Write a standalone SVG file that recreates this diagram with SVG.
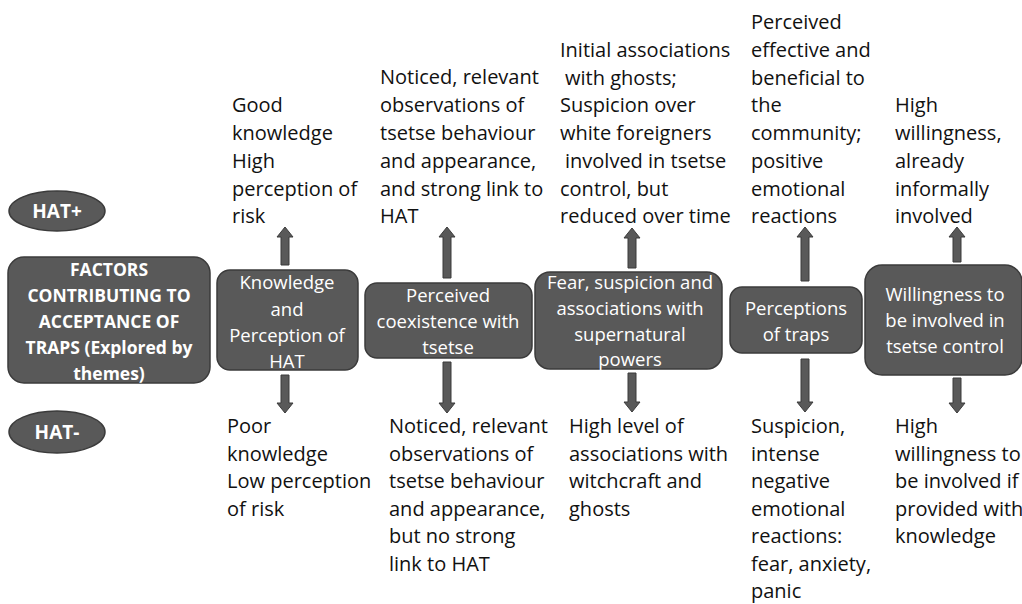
<svg xmlns="http://www.w3.org/2000/svg" width="1022" height="604" viewBox="0 0 1022 604">
<style>
.box{fill:#595959;stroke:#3b3b3b;stroke-width:1.5}
.arr{fill:#595959;stroke:#3b3b3b;stroke-width:1}
.bt{font-family:"Open Sans","Liberation Sans",sans-serif;font-size:18.5px;fill:#ffffff;text-anchor:middle}
.bb{font-family:"Open Sans","Liberation Sans",sans-serif;font-size:17.5px;font-weight:bold;fill:#ffffff;text-anchor:middle}
.hat{font-size:19px}
.t{font-family:"Open Sans","Liberation Sans",sans-serif;font-size:20px;fill:#111111}
</style>
<rect width="1022" height="604" fill="#ffffff"/>
<g id="hat-plus">
<ellipse class="box" cx="57" cy="211" rx="48" ry="20"/>
<text class="bb hat" x="57" y="218">HAT+</text>
</g>
<g id="hat-minus">
<ellipse class="box" cx="57" cy="432" rx="48" ry="21"/>
<text class="bb hat" x="57" y="439">HAT-</text>
</g>
<g id="factors">
<rect class="box" x="8" y="257" width="202" height="126" rx="16"/>
<text class="bb"><tspan x="109" y="276">FACTORS</tspan><tspan x="109" y="302">CONTRIBUTING TO</tspan><tspan x="109" y="328">ACCEPTANCE OF</tspan><tspan x="109" y="354">TRAPS (Explored by</tspan><tspan x="109" y="380">themes)</tspan></text>
</g>
<g id="knowledge">
<rect class="box" x="217" y="270" width="141" height="100" rx="13"/>
<text class="bt"><tspan x="287" y="289">Knowledge</tspan><tspan x="287" y="316">and</tspan><tspan x="287" y="342">Perception of</tspan><tspan x="287" y="368">HAT</tspan></text>
</g>
<g id="coexistence">
<rect class="box" x="365" y="283" width="167" height="75" rx="12"/>
<text class="bt"><tspan x="448" y="302">Perceived</tspan><tspan x="448" y="328">coexistence with</tspan><tspan x="448" y="354">tsetse</tspan></text>
</g>
<g id="fear">
<rect class="box" x="535" y="272" width="187" height="97" rx="15"/>
<text class="bt"><tspan x="630" y="289">Fear, suspicion and</tspan><tspan x="630" y="315">associations with</tspan><tspan x="630" y="341">supernatural</tspan><tspan x="630" y="366">powers</tspan></text>
</g>
<g id="traps">
<rect class="box" x="730" y="287" width="132" height="66" rx="12"/>
<text class="bt"><tspan x="796" y="315">Perceptions</tspan><tspan x="796" y="341">of traps</tspan></text>
</g>
<g id="willingness">
<rect class="box" x="865" y="265" width="157" height="110" rx="17"/>
<text class="bt"><tspan x="945" y="301">Willingness to</tspan><tspan x="945" y="327">be involved in</tspan><tspan x="945" y="353">tsetse control</tspan></text>
</g>
<g id="connectors">
<polygon class="arr" points="281,265 281,237 277,237 285,227 293,237 289,237 289,265"/>
<polygon class="arr" points="281,375 281,403 277,403 285,413 293,403 289,403 289,375"/>
<polygon class="arr" points="443,278 443,237 439,237 447,227 455,237 451,237 451,278"/>
<polygon class="arr" points="443,362 443,403 439,403 447,413 455,403 451,403 451,362"/>
<polygon class="arr" points="628,268 628,238 624,238 632,228 640,238 636,238 636,268"/>
<polygon class="arr" points="628,373 628,402 624,402 632,412 640,402 636,402 636,373"/>
<polygon class="arr" points="801,281 801,237 797,237 805,227 813,237 809,237 809,281"/>
<polygon class="arr" points="801,359 801,402 797,402 805,412 813,402 809,402 809,359"/>
<polygon class="arr" points="953,262 953,237 949,237 957,227 965,237 961,237 961,262"/>
<polygon class="arr" points="953,378 953,403 949,403 957,413 965,403 961,403 961,378"/>
</g>
<g id="labels-top">
<text class="t"><tspan x="232" y="112">Good</tspan><tspan x="232" y="140">knowledge</tspan><tspan x="232" y="168">High</tspan><tspan x="232" y="196">perception of</tspan><tspan x="232" y="223">risk</tspan></text>
<text class="t"><tspan x="380" y="84">Noticed, relevant</tspan><tspan x="380" y="112">observations of</tspan><tspan x="380" y="140">tsetse behaviour</tspan><tspan x="380" y="168">and appearance,</tspan><tspan x="380" y="196">and strong link to</tspan><tspan x="380" y="223">HAT</tspan></text>
<text class="t"><tspan x="560" y="57">Initial associations</tspan><tspan x="565" y="85">with ghosts;</tspan><tspan x="560" y="112">Suspicion over</tspan><tspan x="560" y="140">white foreigners</tspan><tspan x="565" y="168">involved in tsetse</tspan><tspan x="560" y="196">control, but</tspan><tspan x="560" y="223">reduced over time</tspan></text>
<text class="t"><tspan x="751" y="29">Perceived</tspan><tspan x="751" y="57">effective and</tspan><tspan x="751" y="85">beneficial to</tspan><tspan x="751" y="112">the</tspan><tspan x="751" y="140">community;</tspan><tspan x="751" y="168">positive</tspan><tspan x="751" y="196">emotional</tspan><tspan x="751" y="223">reactions</tspan></text>
<text class="t"><tspan x="895" y="112">High</tspan><tspan x="895" y="140">willingness,</tspan><tspan x="895" y="168">already</tspan><tspan x="895" y="196">informally</tspan><tspan x="895" y="223">involved</tspan></text>
</g>
<g id="labels-bottom">
<text class="t"><tspan x="227" y="433">Poor</tspan><tspan x="227" y="461">knowledge</tspan><tspan x="227" y="488">Low perception</tspan><tspan x="227" y="516">of risk</tspan></text>
<text class="t"><tspan x="389" y="433">Noticed, relevant</tspan><tspan x="389" y="461">observations of</tspan><tspan x="389" y="488">tsetse behaviour</tspan><tspan x="389" y="516">and appearance,</tspan><tspan x="389" y="543">but no strong</tspan><tspan x="389" y="571">link to HAT</tspan></text>
<text class="t"><tspan x="569" y="433">High level of</tspan><tspan x="569" y="461">associations with</tspan><tspan x="569" y="488">witchcraft and</tspan><tspan x="569" y="516">ghosts</tspan></text>
<text class="t"><tspan x="751" y="433">Suspicion,</tspan><tspan x="751" y="461">intense</tspan><tspan x="751" y="488">negative</tspan><tspan x="751" y="516">emotional</tspan><tspan x="751" y="543">reactions:</tspan><tspan x="751" y="571">fear, anxiety,</tspan><tspan x="751" y="598">panic</tspan></text>
<text class="t"><tspan x="895" y="433">High</tspan><tspan x="895" y="461">willingness to</tspan><tspan x="895" y="488">be involved if</tspan><tspan x="895" y="516">provided with</tspan><tspan x="895" y="543">knowledge</tspan></text>
</g>
</svg>
